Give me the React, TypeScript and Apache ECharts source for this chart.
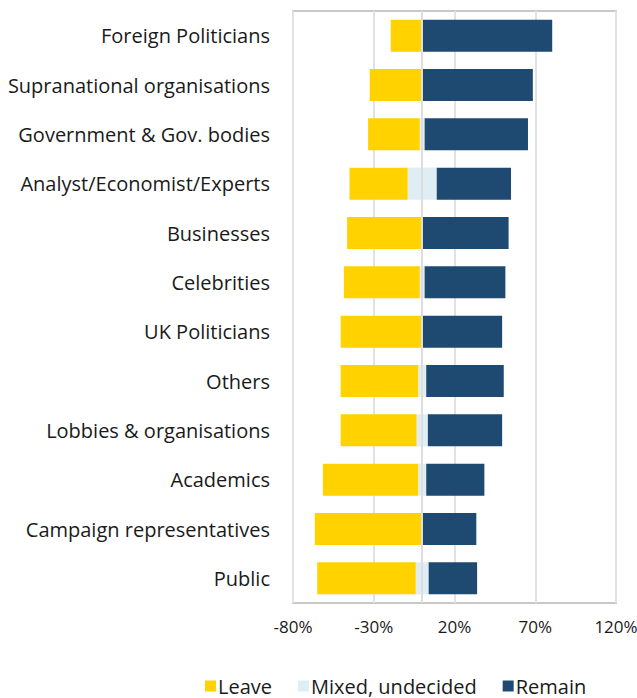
import React, { useEffect, useRef } from "react";
import * as echarts from "echarts";

const categories = [
  "Foreign Politicians",
  "Supranational organisations",
  "Government & Gov. bodies",
  "Analyst/Economist/Experts",
  "Businesses",
  "Celebrities",
  "UK Politicians",
  "Others",
  "Lobbies & organisations",
  "Academics",
  "Campaign representatives",
  "Public",
];
const leave = [19, 32, 32, 36, 46, 47, 50, 48, 47, 59, 66, 61];
const mixed = [1, 1, 3, 18, 1, 3, 1, 5, 7, 5, 1, 8];
const remain = [80, 68, 64, 46, 53, 50, 49, 48, 46, 36, 33, 30];
const xTicks = { min: -80, max: 120, interval: 50 };

const FONT = "'Open Sans', sans-serif";
const C_LEAVE = "#FFD200";
const C_MIXED = "#DFEEF4";
const C_REMAIN = "#1E4A71";

export default function App() {
  const ref = useRef<HTMLDivElement>(null);
  useEffect(() => {
    if (!ref.current) return;
    const chart = echarts.init(ref.current, null, { renderer: "svg" });
    const barCommon = { type: "bar", stack: "total", barCategoryGap: "35%" };
    chart.setOption({
      animation: false,
      grid: {
        left: 293,
        right: 21,
        top: 11,
        bottom: 95,
        show: true,
        borderColor: "#c8c8c8",
        borderWidth: 2,
        containLabel: false,
        outerBoundsMode: "none",
      },
      legend: {
        bottom: -3,
        left: 200,
        data: ["Leave", "Mixed, undecided", "Remain"],
        icon: "rect",
        itemWidth: 11,
        itemHeight: 11,
        itemGap: 26,
        textStyle: { fontFamily: FONT, fontSize: 20, color: "#1a1a1a", padding: [0, 0, 0, -3] },
      },
      xAxis: {
        type: "value",
        min: xTicks.min,
        max: xTicks.max,
        interval: xTicks.interval,
        axisLine: { show: false },
        axisTick: { show: false },
        splitLine: { show: true, lineStyle: { color: "#e2e2e2", width: 2 } },
        axisLabel: {
          formatter: (v: number) => v + "%",
          fontFamily: FONT,
          fontSize: 17,
          color: "#1a1a1a",
          margin: 15,
          hideOverlap: false,
        },
      },
      yAxis: {
        type: "category",
        inverse: true,
        data: categories,
        axisLine: { show: false },
        axisTick: { show: false },
        axisLabel: {
          fontFamily: FONT,
          fontSize: 20,
          color: "#1a1a1a",
          margin: 23,
        },
      },
      series: [
        {
          ...barCommon,
          name: "Mixed, undecided",
          data: mixed.map((m) => -m / 2),
          itemStyle: { color: C_MIXED },
          markLine: {
            silent: true,
            symbol: "none",
            label: { show: false },
            lineStyle: { color: "#dedede", width: 2, type: "solid" },
            data: [{ xAxis: 0 }],
          },
        },
        {
          ...barCommon,
          name: "Mixed, undecided",
          data: mixed.map((m) => m / 2),
          itemStyle: { color: C_MIXED },
        },
        {
          ...barCommon,
          name: "Leave",
          data: leave.map((v) => -v),
          itemStyle: { color: C_LEAVE },
        },
        {
          ...barCommon,
          name: "Remain",
          data: remain,
          itemStyle: { color: C_REMAIN },
        },
      ],
    });
    return () => chart.dispose();
  }, []);
  return <div ref={ref} style={{ width: 637, height: 698, position: "absolute", left: 0, top: 0 }} />;
}
